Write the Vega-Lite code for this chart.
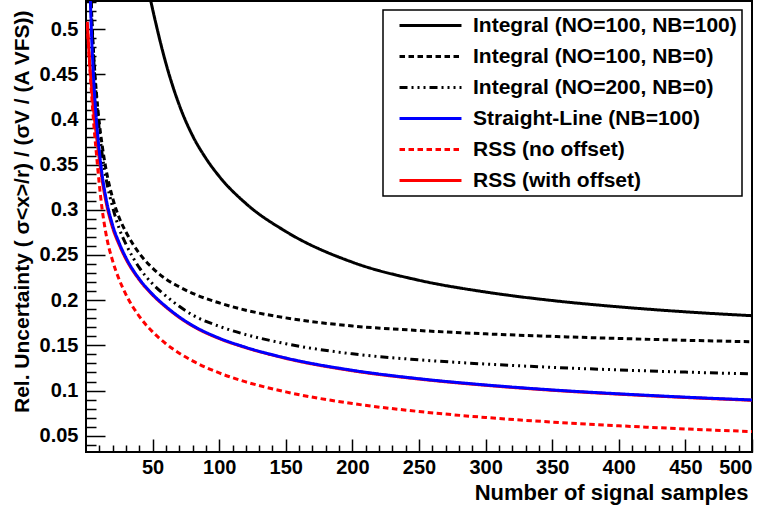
{
 "$schema": "https://vega.github.io/schema/vega-lite/v6.json",
 "width": 666,
 "height": 451,
 "autosize": {"type": "none"},
 "padding": {"left": 86, "top": 1, "right": 19, "bottom": 58},
 "background": "white",
 "config": {
  "view": {"stroke": "black", "strokeWidth": 2},
  "font": "Liberation Sans",
  "axis": {"domain": false, "grid": false, "labelFont": "Liberation Sans", "labelFontWeight": "bold", "labelColor": "black", "labelFontSize": 20, "titleFont": "Liberation Sans", "titleFontWeight": "bold", "titleColor": "black", "titleFontSize": 21, "tickColor": "black", "tickWidth": 1.5},
  "legend": {"orient": "none", "legendX": 297, "legendY": 9, "symbolType": "M-4,0H4", "symbolSize": 240, "symbolStrokeWidth": 3, "symbolOffset": 32, "labelOffset": 32, "labelFont": "Liberation Sans", "labelFontWeight": "bold", "labelFontSize": 21, "labelColor": "black", "labelLimit": 400, "fillColor": "white", "strokeColor": "black", "strokeWidth": 1.5, "padding": 5, "rowPadding": 9}
 },
 "data": {"values": [
  {"s":"Integral (NO=100, NB=100)","n":40,"v":0.595},
  {"s":"Integral (NO=100, NB=100)","n":45,"v":0.556},
  {"s":"Integral (NO=100, NB=100)","n":50,"v":0.522},
  {"s":"Integral (NO=100, NB=100)","n":60,"v":0.462},
  {"s":"Integral (NO=100, NB=100)","n":70,"v":0.416},
  {"s":"Integral (NO=100, NB=100)","n":80,"v":0.382},
  {"s":"Integral (NO=100, NB=100)","n":90,"v":0.357},
  {"s":"Integral (NO=100, NB=100)","n":100,"v":0.337},
  {"s":"Integral (NO=100, NB=100)","n":120,"v":0.307},
  {"s":"Integral (NO=100, NB=100)","n":150,"v":0.276},
  {"s":"Integral (NO=100, NB=100)","n":200,"v":0.242},
  {"s":"Integral (NO=100, NB=100)","n":250,"v":0.222},
  {"s":"Integral (NO=100, NB=100)","n":300,"v":0.209},
  {"s":"Integral (NO=100, NB=100)","n":350,"v":0.1996},
  {"s":"Integral (NO=100, NB=100)","n":400,"v":0.1926},
  {"s":"Integral (NO=100, NB=100)","n":450,"v":0.1871},
  {"s":"Integral (NO=100, NB=100)","n":500,"v":0.1828},

  {"s":"Integral (NO=100, NB=0)","n":3,"v":0.5695},
  {"s":"Integral (NO=100, NB=0)","n":4,"v":0.5263},
  {"s":"Integral (NO=100, NB=0)","n":5,"v":0.4928},
  {"s":"Integral (NO=100, NB=0)","n":6,"v":0.4664},
  {"s":"Integral (NO=100, NB=0)","n":8,"v":0.4261},
  {"s":"Integral (NO=100, NB=0)","n":10,"v":0.396},
  {"s":"Integral (NO=100, NB=0)","n":12,"v":0.3727},
  {"s":"Integral (NO=100, NB=0)","n":15,"v":0.3451},
  {"s":"Integral (NO=100, NB=0)","n":20,"v":0.313},
  {"s":"Integral (NO=100, NB=0)","n":25,"v":0.2909},
  {"s":"Integral (NO=100, NB=0)","n":30,"v":0.2754},
  {"s":"Integral (NO=100, NB=0)","n":40,"v":0.2518},
  {"s":"Integral (NO=100, NB=0)","n":50,"v":0.2355},
  {"s":"Integral (NO=100, NB=0)","n":60,"v":0.2233},
  {"s":"Integral (NO=100, NB=0)","n":70,"v":0.2148},
  {"s":"Integral (NO=100, NB=0)","n":80,"v":0.2076},
  {"s":"Integral (NO=100, NB=0)","n":100,"v":0.197},
  {"s":"Integral (NO=100, NB=0)","n":120,"v":0.1889},
  {"s":"Integral (NO=100, NB=0)","n":150,"v":0.1804},
  {"s":"Integral (NO=100, NB=0)","n":200,"v":0.1714},
  {"s":"Integral (NO=100, NB=0)","n":250,"v":0.1664},
  {"s":"Integral (NO=100, NB=0)","n":300,"v":0.1627},
  {"s":"Integral (NO=100, NB=0)","n":350,"v":0.1599},
  {"s":"Integral (NO=100, NB=0)","n":400,"v":0.1576},
  {"s":"Integral (NO=100, NB=0)","n":450,"v":0.1556},
  {"s":"Integral (NO=100, NB=0)","n":500,"v":0.154},

  {"s":"Integral (NO=200, NB=0)","n":3,"v":0.565},
  {"s":"Integral (NO=200, NB=0)","n":4,"v":0.522},
  {"s":"Integral (NO=200, NB=0)","n":5,"v":0.488},
  {"s":"Integral (NO=200, NB=0)","n":6,"v":0.461},
  {"s":"Integral (NO=200, NB=0)","n":8,"v":0.419},
  {"s":"Integral (NO=200, NB=0)","n":10,"v":0.388},
  {"s":"Integral (NO=200, NB=0)","n":12,"v":0.363},
  {"s":"Integral (NO=200, NB=0)","n":15,"v":0.335},
  {"s":"Integral (NO=200, NB=0)","n":20,"v":0.303},
  {"s":"Integral (NO=200, NB=0)","n":25,"v":0.279},
  {"s":"Integral (NO=200, NB=0)","n":30,"v":0.262},
  {"s":"Integral (NO=200, NB=0)","n":40,"v":0.236},
  {"s":"Integral (NO=200, NB=0)","n":50,"v":0.218},
  {"s":"Integral (NO=200, NB=0)","n":60,"v":0.2046},
  {"s":"Integral (NO=200, NB=0)","n":70,"v":0.1932},
  {"s":"Integral (NO=200, NB=0)","n":80,"v":0.1836},
  {"s":"Integral (NO=200, NB=0)","n":100,"v":0.1711},
  {"s":"Integral (NO=200, NB=0)","n":120,"v":0.1619},
  {"s":"Integral (NO=200, NB=0)","n":150,"v":0.1518},
  {"s":"Integral (NO=200, NB=0)","n":200,"v":0.1406},
  {"s":"Integral (NO=200, NB=0)","n":250,"v":0.134},
  {"s":"Integral (NO=200, NB=0)","n":300,"v":0.1293},
  {"s":"Integral (NO=200, NB=0)","n":350,"v":0.1257},
  {"s":"Integral (NO=200, NB=0)","n":400,"v":0.1228},
  {"s":"Integral (NO=200, NB=0)","n":450,"v":0.1204},
  {"s":"Integral (NO=200, NB=0)","n":500,"v":0.1184},

  {"s":"Straight-Line (NB=100)","n":2,"v":0.9},
  {"s":"Straight-Line (NB=100)","n":3,"v":0.56},
  {"s":"Straight-Line (NB=100)","n":4,"v":0.5},
  {"s":"Straight-Line (NB=100)","n":5,"v":0.466},
  {"s":"Straight-Line (NB=100)","n":6,"v":0.438},
  {"s":"Straight-Line (NB=100)","n":7,"v":0.415},
  {"s":"Straight-Line (NB=100)","n":8,"v":0.396},
  {"s":"Straight-Line (NB=100)","n":10,"v":0.365},
  {"s":"Straight-Line (NB=100)","n":12,"v":0.34},
  {"s":"Straight-Line (NB=100)","n":15,"v":0.313},
  {"s":"Straight-Line (NB=100)","n":20,"v":0.283},
  {"s":"Straight-Line (NB=100)","n":25,"v":0.263},
  {"s":"Straight-Line (NB=100)","n":30,"v":0.247},
  {"s":"Straight-Line (NB=100)","n":40,"v":0.2235},
  {"s":"Straight-Line (NB=100)","n":50,"v":0.2065},
  {"s":"Straight-Line (NB=100)","n":60,"v":0.193},
  {"s":"Straight-Line (NB=100)","n":70,"v":0.1815},
  {"s":"Straight-Line (NB=100)","n":80,"v":0.172},
  {"s":"Straight-Line (NB=100)","n":100,"v":0.158},
  {"s":"Straight-Line (NB=100)","n":120,"v":0.1478},
  {"s":"Straight-Line (NB=100)","n":150,"v":0.136},
  {"s":"Straight-Line (NB=100)","n":200,"v":0.1224},
  {"s":"Straight-Line (NB=100)","n":250,"v":0.1131},
  {"s":"Straight-Line (NB=100)","n":300,"v":0.1062},
  {"s":"Straight-Line (NB=100)","n":350,"v":0.1007},
  {"s":"Straight-Line (NB=100)","n":400,"v":0.0964},
  {"s":"Straight-Line (NB=100)","n":450,"v":0.0927},
  {"s":"Straight-Line (NB=100)","n":500,"v":0.0896},

  {"s":"RSS (no offset)","n":1,"v":0.505},
  {"s":"RSS (no offset)","n":2,"v":0.478},
  {"s":"RSS (no offset)","n":3,"v":0.454},
  {"s":"RSS (no offset)","n":4,"v":0.432},
  {"s":"RSS (no offset)","n":5,"v":0.411},
  {"s":"RSS (no offset)","n":6,"v":0.392},
  {"s":"RSS (no offset)","n":8,"v":0.359},
  {"s":"RSS (no offset)","n":10,"v":0.328},
  {"s":"RSS (no offset)","n":12,"v":0.302},
  {"s":"RSS (no offset)","n":15,"v":0.2735},
  {"s":"RSS (no offset)","n":20,"v":0.2434},
  {"s":"RSS (no offset)","n":25,"v":0.2225},
  {"s":"RSS (no offset)","n":30,"v":0.2062},
  {"s":"RSS (no offset)","n":40,"v":0.1821},
  {"s":"RSS (no offset)","n":50,"v":0.1649},
  {"s":"RSS (no offset)","n":60,"v":0.1518},
  {"s":"RSS (no offset)","n":70,"v":0.1413},
  {"s":"RSS (no offset)","n":80,"v":0.1328},
  {"s":"RSS (no offset)","n":100,"v":0.1195},
  {"s":"RSS (no offset)","n":120,"v":0.1096},
  {"s":"RSS (no offset)","n":150,"v":0.0985},
  {"s":"RSS (no offset)","n":200,"v":0.0856},
  {"s":"RSS (no offset)","n":250,"v":0.0768},
  {"s":"RSS (no offset)","n":300,"v":0.0702},
  {"s":"RSS (no offset)","n":350,"v":0.0651},
  {"s":"RSS (no offset)","n":400,"v":0.061},
  {"s":"RSS (no offset)","n":450,"v":0.0575},
  {"s":"RSS (no offset)","n":500,"v":0.0546},

  {"s":"RSS (with offset)","n":1,"v":0.508},
  {"s":"RSS (with offset)","n":2,"v":0.48},
  {"s":"RSS (with offset)","n":3,"v":0.458},
  {"s":"RSS (with offset)","n":4,"v":0.44},
  {"s":"RSS (with offset)","n":5,"v":0.422},
  {"s":"RSS (with offset)","n":6,"v":0.406},
  {"s":"RSS (with offset)","n":7,"v":0.392},
  {"s":"RSS (with offset)","n":8,"v":0.38},
  {"s":"RSS (with offset)","n":10,"v":0.356},
  {"s":"RSS (with offset)","n":12,"v":0.334},
  {"s":"RSS (with offset)","n":15,"v":0.309},
  {"s":"RSS (with offset)","n":20,"v":0.28},
  {"s":"RSS (with offset)","n":25,"v":0.261},
  {"s":"RSS (with offset)","n":30,"v":0.2455},
  {"s":"RSS (with offset)","n":40,"v":0.2225},
  {"s":"RSS (with offset)","n":50,"v":0.2057},
  {"s":"RSS (with offset)","n":60,"v":0.1923},
  {"s":"RSS (with offset)","n":70,"v":0.1809},
  {"s":"RSS (with offset)","n":80,"v":0.1714},
  {"s":"RSS (with offset)","n":100,"v":0.1575},
  {"s":"RSS (with offset)","n":120,"v":0.1474},
  {"s":"RSS (with offset)","n":150,"v":0.1356},
  {"s":"RSS (with offset)","n":200,"v":0.1219},
  {"s":"RSS (with offset)","n":250,"v":0.1127},
  {"s":"RSS (with offset)","n":300,"v":0.1058},
  {"s":"RSS (with offset)","n":350,"v":0.1003},
  {"s":"RSS (with offset)","n":400,"v":0.096},
  {"s":"RSS (with offset)","n":450,"v":0.0923},
  {"s":"RSS (with offset)","n":500,"v":0.0892}
 ]},
 "layer": [
  {
   "transform": [{"filter": "datum.s !== 'Straight-Line (NB=100)'"}],
   "mark": {"type": "line", "clip": true, "strokeWidth": 3, "interpolate": "monotone"},
   "encoding": {
    "x": {"field": "n", "type": "quantitative", "scale": {"domain": [0, 500], "nice": false, "zero": false},
      "axis": {"values": [50,100,150,200,250,300,350,400,450,500], "format": "d", "tickSize": -13, "labelPadding": 18, "title": "Number of signal samples", "titleFontSize": 22, "titleAnchor": "end", "titlePadding": 5, "titleX": 662, "titleAlign": "right"}},
    "y": {"field": "v", "type": "quantitative", "scale": {"domain": [0.032, 0.531], "nice": false, "zero": false},
      "axis": {"values": [0.05,0.1,0.15,0.2,0.25,0.3,0.35,0.4,0.45,0.5], "format": "~g", "tickSize": -19, "labelPadding": 27, "title": "Rel. Uncertainty ( σ<x>/r) / (σV / (A VFS))", "titleAnchor": "end", "titleAlign": "right", "titleY": 9, "titlePadding": 7}},
    "color": {"field": "s", "type": "nominal",
      "scale": {"domain": ["Integral (NO=100, NB=100)","Integral (NO=100, NB=0)","Integral (NO=200, NB=0)","Straight-Line (NB=100)","RSS (no offset)","RSS (with offset)"], "range": ["#000000","#000000","#000000","#0000ff","#ff0000","#ff0000"]},
      "legend": {"title": null}},
    "strokeDash": {"field": "s", "type": "nominal",
      "scale": {"domain": ["Integral (NO=100, NB=100)","Integral (NO=100, NB=0)","Integral (NO=200, NB=0)","Straight-Line (NB=100)","RSS (no offset)","RSS (with offset)"], "range": [[1,0],[5.5,3.5],[8,4,2,4,2,4,2,4],[1,0],[5.5,3.5],[1,0]]},
      "legend": {"title": null}}
   }
  },
  {
   "transform": [{"filter": "datum.s === 'Straight-Line (NB=100)'"}],
   "mark": {"type": "line", "clip": true, "strokeWidth": 3, "interpolate": "monotone"},
   "encoding": {
    "x": {"field": "n", "type": "quantitative", "axis": null},
    "y": {"field": "v", "type": "quantitative", "axis": null},
    "color": {"field": "s", "type": "nominal", "legend": {"title": null}},
    "strokeDash": {"field": "s", "type": "nominal", "legend": {"title": null}}
   }
  },
  {
   "transform": [{"filter": "false"}],
   "mark": {"type": "point"},
   "encoding": {
    "x": {"field": "n", "type": "quantitative", "axis": {"orient": "bottom", "values": [10,20,30,40,60,70,80,90,110,120,130,140,160,170,180,190,210,220,230,240,260,270,280,290,310,320,330,340,360,370,380,390,410,420,430,440,460,470,480,490], "labels": false, "tickSize": -7, "title": null}},
    "y": {"field": "v", "type": "quantitative", "axis": {"orient": "left", "values": [0.04,0.06,0.07,0.08,0.09,0.11,0.12,0.13,0.14,0.16,0.17,0.18,0.19,0.21,0.22,0.23,0.24,0.26,0.27,0.28,0.29,0.31,0.32,0.33,0.34,0.36,0.37,0.38,0.39,0.41,0.42,0.43,0.44,0.46,0.47,0.48,0.49,0.51,0.52,0.53], "labels": false, "tickSize": -10, "title": null}}
   }
  }
 ],
 "resolve": {"axis": {"x": "independent", "y": "independent"}}
}
